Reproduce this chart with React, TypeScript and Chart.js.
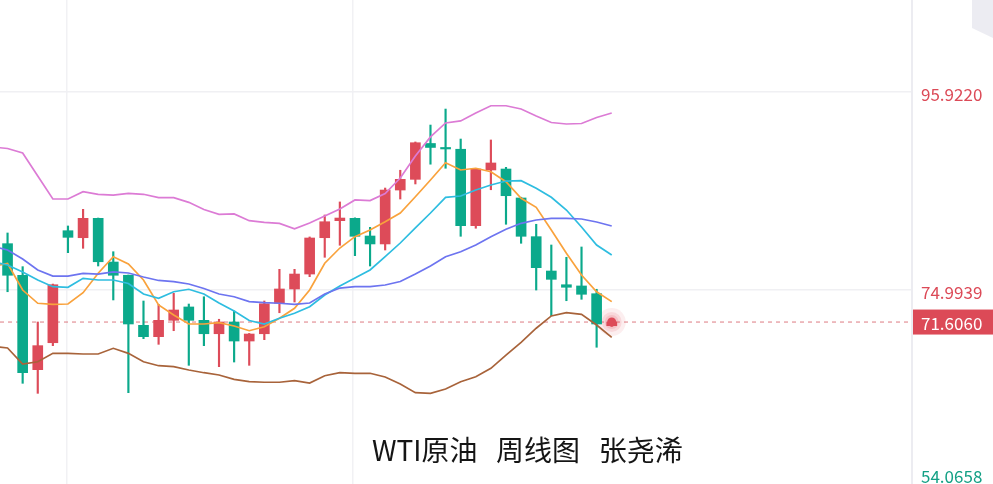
import React, { useEffect, useRef } from 'react';
import { Chart, registerables } from 'chart.js';

Chart.register(...registerables);

// Weekly WTI candles (index 0 = first visible week)
const opens = [79.89, 76.55, 66.57, 69.42, 81.26, 80.52, 82.57, 77.95, 76.55, 71.26, 70.06, 71.79, 73.20, 71.79, 70.37, 71.61, 69.60, 70.37, 73.59, 75.10, 76.68, 80.52, 82.32, 82.57, 80.70, 79.86, 85.56, 86.69, 90.48, 90.03, 89.87, 81.79, 87.68, 87.78, 84.72, 80.63, 77.00, 75.55, 75.42, 74.60, 71.22];
const highs = [81.02, 77.46, 71.61, 75.62, 81.76, 83.52, 82.60, 79.04, 76.58, 73.83, 73.48, 74.64, 73.51, 74.28, 71.90, 72.77, 70.40, 73.83, 77.18, 77.18, 80.60, 82.92, 84.30, 82.62, 81.62, 85.77, 87.65, 90.64, 92.43, 94.12, 90.95, 87.82, 90.85, 87.96, 84.80, 81.94, 79.75, 78.45, 79.54, 75.07, 71.75];
const lows = [74.81, 65.13, 64.07, 69.11, 78.94, 79.40, 77.53, 73.94, 64.14, 69.85, 69.25, 70.69, 67.03, 69.11, 66.89, 67.38, 67.03, 69.74, 72.59, 73.72, 76.40, 78.45, 79.72, 78.62, 77.53, 79.22, 84.61, 86.20, 88.29, 87.86, 80.67, 81.52, 85.59, 81.94, 79.93, 74.99, 72.28, 73.86, 74.01, 68.94, 71.15];
const closes = [76.55, 66.25, 69.11, 75.55, 80.56, 82.57, 77.98, 76.55, 71.40, 70.06, 71.79, 72.88, 71.79, 70.37, 71.61, 69.60, 70.34, 73.54, 75.10, 76.68, 80.49, 82.21, 82.60, 80.67, 79.86, 85.56, 86.69, 90.56, 90.06, 89.90, 81.79, 87.78, 88.42, 84.96, 80.67, 77.35, 76.12, 75.28, 74.54, 71.40, 71.606];

// Indicator lines, index -1 .. 40 (first value belongs to the week before the first visible candle)
const ma5 = [77.53, 77.79, 74.99, 73.59, 73.48, 73.51, 74.71, 76.76, 78.51, 77.74, 76.05, 73.41, 72.35, 71.40, 71.40, 71.54, 71.19, 70.69, 71.11, 72.00, 73.06, 74.99, 77.82, 79.43, 80.63, 81.34, 82.21, 83.13, 84.85, 86.62, 88.45, 87.68, 87.86, 87.50, 86.44, 84.69, 83.73, 81.34, 78.87, 76.58, 74.81, 73.76];
const ma10 = [77.95, 77.64, 76.90, 76.05, 75.34, 75.28, 76.23, 76.05, 76.05, 75.68, 74.57, 74.12, 74.81, 75.07, 74.57, 73.62, 72.77, 71.77, 71.40, 72.00, 72.53, 73.23, 74.46, 75.42, 76.26, 77.11, 78.51, 79.96, 81.55, 83.13, 84.79, 84.93, 85.56, 86.09, 86.51, 86.55, 85.74, 84.79, 83.45, 81.65, 79.75, 78.69];
const ma20 = [79.64, 79.22, 78.27, 77.11, 76.47, 76.47, 76.74, 76.68, 76.90, 76.79, 76.37, 76.00, 75.87, 75.63, 75.15, 74.57, 74.28, 73.76, 73.65, 73.59, 73.48, 73.62, 74.57, 75.20, 75.34, 75.34, 75.52, 75.89, 76.68, 77.53, 78.51, 79.04, 79.75, 80.63, 81.41, 82.04, 82.39, 82.57, 82.57, 82.50, 82.18, 81.76];
const bollUpper = [90.11, 89.95, 89.47, 87.04, 84.61, 84.61, 85.38, 85.11, 85.03, 85.21, 85.11, 84.75, 84.75, 84.26, 83.50, 82.99, 83.03, 82.32, 82.15, 82.04, 81.47, 82.08, 82.82, 83.56, 84.51, 84.45, 85.19, 86.83, 89.16, 91.17, 92.65, 92.86, 93.70, 94.47, 94.47, 94.12, 93.38, 92.70, 92.54, 92.59, 93.23, 93.70];
const bollLower = [69.07, 68.86, 67.17, 67.41, 68.30, 68.30, 68.23, 68.23, 68.83, 68.30, 67.41, 66.99, 66.89, 66.54, 66.25, 66.01, 65.55, 65.30, 65.24, 65.24, 65.41, 65.16, 65.93, 66.25, 66.19, 66.19, 65.80, 65.06, 64.14, 64.07, 64.53, 65.30, 65.83, 66.72, 68.12, 69.46, 70.95, 72.25, 72.59, 72.42, 71.29, 69.99];

const lastPrice = 71.606;
const yTickLabels = ['95.9220', '74.9939', '54.0658'];
const yTickColors = ['#dc4a57', '#dc4a57', '#13a085'];
const xGridAt = [3.93, 22.86];

const RED = '#dd4b59';
const GREEN = '#0ba98b';
const FONT = '"Noto Sans CJK SC", "Noto Sans", sans-serif';

export default function App() {
  const ref = useRef<HTMLCanvasElement>(null);

  useEffect(() => {
    const canvas = ref.current;
    if (!canvas) return;
    const isUp = (i: number) => closes[i] >= opens[i];
    const colorAt = (ctx: any) => (isUp(ctx.dataIndex) ? RED : GREEN);
    const wicks = opens.map((_, i) => ({ x: i, y: [lows[i], highs[i]] }));
    const bodies = opens.map((o, i) => ({ x: i, y: [o, closes[i]] }));
    const lastIdx = closes.length - 1;

    const mkLine = (vals: number[], color: string) => ({
      type: 'line' as const,
      data: vals.map((v, i) => ({ x: i - 1, y: v })),
      borderColor: color,
      borderWidth: 1.7,
      pointRadius: 0,
      tension: 0,
      fill: false,
      order: 0,
    });

    const mkDot = (radius: number, color: string, order: number) => ({
      type: 'line' as const,
      data: [{ x: lastIdx, y: lastPrice }],
      showLine: false,
      pointRadius: radius,
      pointBackgroundColor: color,
      pointBorderWidth: 0,
      order,
    });

    const priceTag = {
      id: 'priceTag',
      afterDraw(chart: any) {
        const { ctx, chartArea } = chart;
        const y = chart.scales.y.getPixelForValue(lastPrice);
        ctx.save();
        ctx.fillStyle = '#dc4a57';
        ctx.fillRect(chartArea.right + 1, y - 12.5, chart.width - chartArea.right - 1, 25);
        ctx.fillStyle = '#ffffff';
        ctx.font = `17px ${FONT}`;
        ctx.textBaseline = 'middle';
        ctx.textAlign = 'left';
        ctx.fillText(lastPrice.toFixed(4), chartArea.right + 9, y + 1.5);
        ctx.restore();
      },
    };

    const chart = new Chart(canvas, {
      type: 'bar',
      data: {
        datasets: [
          {
            type: 'line',
            data: [{ x: -0.5, y: lastPrice }, { x: 59.88, y: lastPrice }],
            borderColor: 'rgba(214,90,100,0.8)',
            borderWidth: 1,
            borderDash: [4, 4],
            pointRadius: 0,
            order: 8,
          } as any,
          mkDot(14, 'rgba(226,86,99,0.10)', 7) as any,
          mkDot(10, 'rgba(226,86,99,0.14)', 6) as any,
          mkDot(7, 'rgba(226,86,99,0.18)', 5) as any,
          {
            type: 'bar',
            data: wicks,
            backgroundColor: colorAt,
            barThickness: 1.5,
            grouped: false,
            order: 3,
          } as any,
          {
            type: 'bar',
            data: bodies,
            backgroundColor: colorAt,
            barThickness: 10,
            minBarLength: 1.5,
            grouped: false,
            order: 2,
          } as any,
          mkDot(4.5, RED, 1) as any,
          mkLine(bollUpper, '#dc7bd5'),
          mkLine(bollLower, '#a8633a'),
          mkLine(ma20, '#6d74f0'),
          mkLine(ma10, '#2ebde0'),
          mkLine(ma5, '#f9a23c'),
        ],
      },
      plugins: [priceTag],
      options: {
        animation: false,
        responsive: true,
        maintainAspectRatio: false,
        layout: { padding: 0, autoPadding: false },
        plugins: { legend: { display: false }, tooltip: { enabled: false } },
        events: [],
        scales: {
          x: {
            type: 'linear',
            min: -0.5,
            max: 59.88,
            offset: false,
            ticks: { display: false },
            grid: { color: '#f1f1f4', lineWidth: 1.5, drawTicks: false, offset: false },
            border: { display: false },
            afterBuildTicks: (s: any) => {
              s.ticks = xGridAt.map((v) => ({ value: v }));
            },
            afterFit: (s: any) => {
              s.height = 0;
              s.paddingLeft = 0;
              s.paddingRight = 0;
            },
          },
          y: {
            type: 'linear',
            position: 'right',
            min: 54.487,
            max: 105.646,
            grid: {
              color: (c: any) => (c.index === 2 ? 'rgba(0,0,0,0)' : '#f0f0f3'),
              lineWidth: 1.5,
              drawTicks: false,
            },
            border: { display: true, color: '#ececf1', width: 2 },
            ticks: {
              padding: 9,
              labelOffset: 2.5,
              autoSkip: false,
              color: (c: any) => yTickColors[c.index] || '#dc4a57',
              font: { family: FONT, size: 17 },
              callback: (_v: any, i: number) => yTickLabels[i],
            },
            afterBuildTicks: (s: any) => {
              s.ticks = yTickLabels.map((t) => ({ value: Math.max(parseFloat(t), s.min + 1.05) }));
            },
            afterFit: (s: any) => {
              s.width = 81;
              s.paddingTop = 0;
              s.paddingBottom = 0;
            },
          },
        },
      } as any,
    });
    return () => chart.destroy();
  }, []);

  return (
    <div style={{ position: 'absolute', left: 0, top: 0, width: 993, height: 484, background: '#ffffff', overflow: 'hidden' }}>
      <canvas ref={ref} />
      <div
        style={{
          position: 'absolute',
          left: 972,
          top: 0,
          width: 21,
          height: 38,
          background: '#ececf2',
          clipPath: 'polygon(0 0, 100% 0, 100% 100%, 0 74%)',
        }}
      />
      <div
        style={{
          position: 'absolute',
          left: 372,
          top: 435,
          fontFamily: FONT,
          fontSize: 28,
          lineHeight: '28px',
          color: '#151515',
          whiteSpace: 'pre',
          wordSpacing: '3px',
        }}
      >
        {'WTI原油  周线图  张尧浠'}
      </div>
    </div>
  );
}
